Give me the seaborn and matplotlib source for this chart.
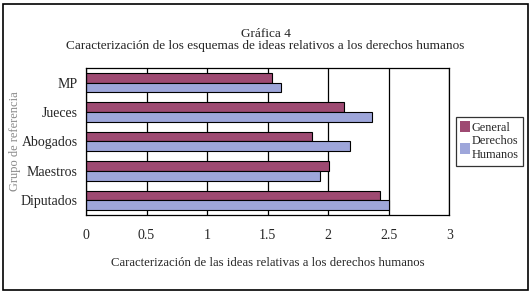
import pandas as pd
import seaborn as sns
import matplotlib.pyplot as plt
from matplotlib.patches import Rectangle

grupos = ["MP", "Jueces", "Abogados", "Maestros", "Diputados"]
general = [1.54, 2.13, 1.87, 2.01, 2.43]
derechos = [1.61, 2.36, 2.18, 1.93, 2.50]
series = ["General", "Derechos\nHumanos"]
colores = ["#9E4A72", "#9EA6DA"]
xticks = [0, 0.5, 1, 1.5, 2, 2.5, 3]

df = pd.DataFrame({
    "grupo": grupos * 2,
    "valor": general + derechos,
    "serie": [series[0]] * len(grupos) + [series[1]] * len(grupos),
})

sns.set_style("white")
plt.rcParams["font.family"] = ["Liberation Serif", "DejaVu Serif"]

fig = plt.figure(figsize=(5.31, 2.94), dpi=100)
ax = fig.add_axes([0.162, 0.269, 0.684, 0.5])

sns.barplot(data=df, y="grupo", x="valor", hue="serie", order=grupos,
            hue_order=series, palette=colores, orient="h", width=0.66,
            edgecolor="black", linewidth=0.8, saturation=1, ax=ax)

ax.set_xlim(0, 3)
ax.set_xticks(xticks)
ax.set_xticklabels([f"{t:g}" for t in xticks], fontsize=10)
ax.tick_params(axis="y", labelsize=10, length=0, pad=6)
ax.tick_params(axis="x", length=0, pad=10)
ax.xaxis.grid(True, color="black", linewidth=0.9)
ax.set_axisbelow(True)
for s in ax.spines.values():
    s.set_color("black")
    s.set_linewidth(0.9)

ax.set_xlabel("Caracterización de las ideas relativas a los derechos humanos",
              fontsize=9.2, labelpad=11)
ax.set_ylabel("")
fig.text(0.028, 0.519, "Grupo de referencia", rotation=90, ha="center", va="center",
         fontsize=9, color="#888888")

fig.text(0.5, 0.886, "Gráfica 4", ha="center", va="center", fontsize=9.5)
fig.text(0.5, 0.845, "Caracterización de los esquemas de ideas relativos a los derechos humanos",
         ha="center", va="center", fontsize=9.5)

ax.get_legend().remove()
leg = fig.legend(*ax.get_legend_handles_labels(), loc="center left",
                 bbox_to_anchor=(0.859, 0.52), frameon=True, fancybox=False,
                 fontsize=8.8, handlelength=0.8, handleheight=1.0,
                 handletextpad=0.1, borderpad=0.35, labelspacing=0.15,
                 borderaxespad=0)
leg.get_frame().set_edgecolor("black")
leg.get_frame().set_linewidth(0.9)
for h in leg.legend_handles:
    h.set_edgecolor("none")

fig.patches.append(Rectangle((0.006, 0.012), 0.988, 0.975, transform=fig.transFigure,
                             fill=False, edgecolor="black", linewidth=1.2))

fig.savefig("out.png", dpi=100)
